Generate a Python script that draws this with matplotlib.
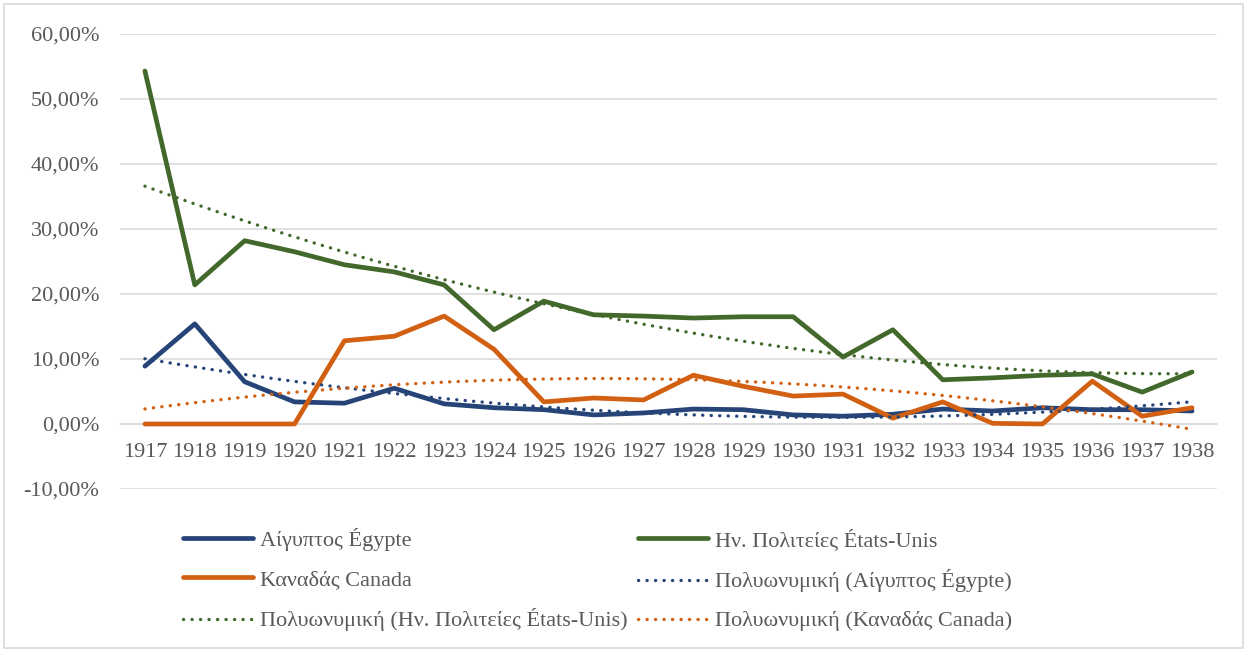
import numpy as np
import matplotlib
matplotlib.use("Agg")
import matplotlib.pyplot as plt
from matplotlib.patches import Rectangle
from matplotlib.ticker import FuncFormatter, MultipleLocator

years = [str(y) for y in range(1917, 1939)]
egypt = [8.9, 15.4, 6.5, 3.4, 3.2, 5.5, 3.1, 2.5, 2.2, 1.4, 1.7, 2.3, 2.2, 1.4, 1.2, 1.5, 2.3, 2.0, 2.5, 2.2, 2.2, 2.0]
usa = [54.3, 21.4, 28.2, 26.5, 24.5, 23.4, 21.4, 14.5, 18.9, 16.8, 16.6, 16.3, 16.5, 16.5, 10.3, 14.5, 6.8, 7.1, 7.5, 7.7, 4.9, 8.0]
canada = [0.0, 0.0, 0.0, 0.0, 12.8, 13.5, 16.6, 11.5, 3.4, 4.0, 3.7, 7.5, 5.8, 4.3, 4.6, 0.9, 3.4, 0.1, 0.0, 6.6, 1.2, 2.5]

names = ["Αίγυπτος Égypte", "Ην. Πολιτείες États-Unis", "Καναδάς Canada"]
colors = ["#264478", "#43682B", "#D26012"]

FONT = "Liberation Serif"
plt.rcParams["font.family"] = [FONT, "DejaVu Serif"]
FS = 16

fig = plt.figure(figsize=(12.45, 6.49), dpi=100)
ax = fig.add_axes([120 / 1245, 1 - 489 / 649, (1217 - 120) / 1245, (489 - 34) / 649])

x = np.arange(len(years))
series = [egypt, usa, canada]
solid_handles = []
for vals, c, n in zip(series, colors, names):
    h, = ax.plot(x, vals, color=c, lw=3.4, solid_joinstyle="round", solid_capstyle="round", zorder=3, label=n)
    solid_handles.append(h)

xf = np.linspace(0, len(years) - 1, 300)
trend_handles = []
for vals, c, n in zip(series, colors, names):
    coef = np.polyfit(x + 1, vals, 2)
    h, = ax.plot(xf, np.polyval(coef, xf + 1), color=c, lw=2.4,
                 linestyle=(0, (0.05, 2.5)), dash_capstyle="round", zorder=4,
                 label=f"Πολυωνυμική ({n})")
    trend_handles.append(h)

ax.set_xlim(-0.5, len(years) - 0.5)
ax.set_ylim(-10, 60)
ax.yaxis.set_major_locator(MultipleLocator(10))
ax.yaxis.set_major_formatter(FuncFormatter(lambda v, p: f"{v:.2f}".replace(".", ",") + "%"))
ax.grid(axis="y", color="#D9D9D9", lw=1.1, zorder=0)
ax.set_axisbelow(True)
for s in ["top", "right", "left"]:
    ax.spines[s].set_visible(False)
ax.spines["bottom"].set_position(("data", 0))
ax.spines["bottom"].set_color("#D9D9D9")
ax.spines["bottom"].set_linewidth(1.1)
ax.set_xticks(x)
ax.set_xticklabels(years)
ax.tick_params(axis="x", length=0, pad=14, labelsize=FS, labelcolor="#595959")
ax.tick_params(axis="y", length=0, pad=15, labelsize=FS, labelcolor="#595959")

handles = [solid_handles[0], solid_handles[2], trend_handles[1],
           solid_handles[1], trend_handles[0], trend_handles[2]]
leg = fig.legend(handles=handles, labels=[h.get_label() for h in handles], ncol=2,
                 loc="upper left", bbox_to_anchor=(183 / 1245, 1 - 528 / 649),
                 frameon=False, fontsize=FS, handlelength=3.15, handletextpad=0.3,
                 columnspacing=0.5, labelspacing=0.83, borderpad=0, borderaxespad=0)
for t in leg.get_texts():
    t.set_color("#595959")

fig.add_artist(Rectangle((4 / 1245, 1 / 649), 1239 / 1245, 644 / 649, transform=fig.transFigure,
                         fill=False, edgecolor="#D9D9D9", lw=1.2))

fig.savefig("out.png", dpi=100)
